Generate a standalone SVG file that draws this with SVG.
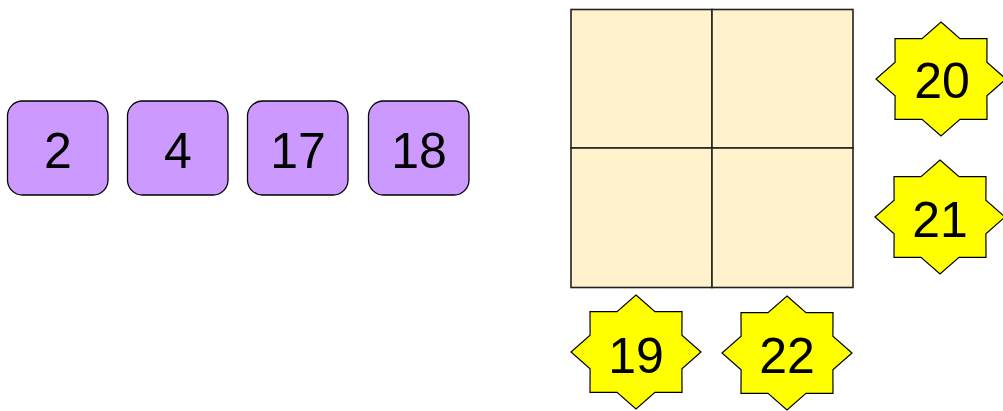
<svg xmlns="http://www.w3.org/2000/svg" xmlns:xlink="http://www.w3.org/1999/xlink" width="1003" height="411" viewBox="0 0 1003 411">
<style>
.box{fill:#CC99FF;stroke:#000;stroke-width:1.3}
.star{fill:#FFFF00;stroke:#000;stroke-width:1.2}
.cell{fill:#FFF2CC;stroke:#222;stroke-width:1.6}
.lbl{font-family:"Liberation Sans",Arial,sans-serif;font-size:50px;text-anchor:middle;fill:#000}
</style>
<defs>
<polygon id="star8" class="star" points="0,-57 19,-40.3 46,-40.3 45.9,-16.7 65,0 45.9,16.7 46,40.3 19,40.3 0,57 -19,40.3 -46,40.3 -45.9,16.7 -65,0 -45.9,-16.7 -46,-40.3 -19,-40.3"/>
</defs>
<g id="grid">
<rect class="cell" x="571" y="9.5" width="141" height="138.5"/>
<rect class="cell" x="712" y="9.5" width="141" height="138.5"/>
<rect class="cell" x="571" y="148" width="141" height="139.5"/>
<rect class="cell" x="712" y="148" width="141" height="139.5"/>
</g>
<g id="connectors"></g>
<g id="box2"><rect class="box" x="7.5" y="101" width="100.5" height="94" rx="15"/><text class="lbl" x="58" y="168">2</text></g>
<g id="box4"><rect class="box" x="127.5" y="101" width="100.5" height="94" rx="15"/><text class="lbl" x="178" y="168">4</text></g>
<g id="box17"><rect class="box" x="247.5" y="101" width="100.5" height="94" rx="15"/><text class="lbl" x="298" y="168">17</text></g>
<g id="box18"><rect class="box" x="368.5" y="101" width="100.5" height="94" rx="15"/><text class="lbl" x="419" y="168">18</text></g>
<g id="star20"><use xlink:href="#star8" transform="translate(941,79)"/><text class="lbl" x="942" y="98">20</text></g>
<g id="star21"><use xlink:href="#star8" transform="translate(940,217)"/><text class="lbl" x="940" y="237">21</text></g>
<g id="star19"><use xlink:href="#star8" transform="translate(636,352)"/><text class="lbl" x="636" y="373">19</text></g>
<g id="star22"><use xlink:href="#star8" transform="translate(787,353)"/><text class="lbl" x="787" y="373">22</text></g>
</svg>
